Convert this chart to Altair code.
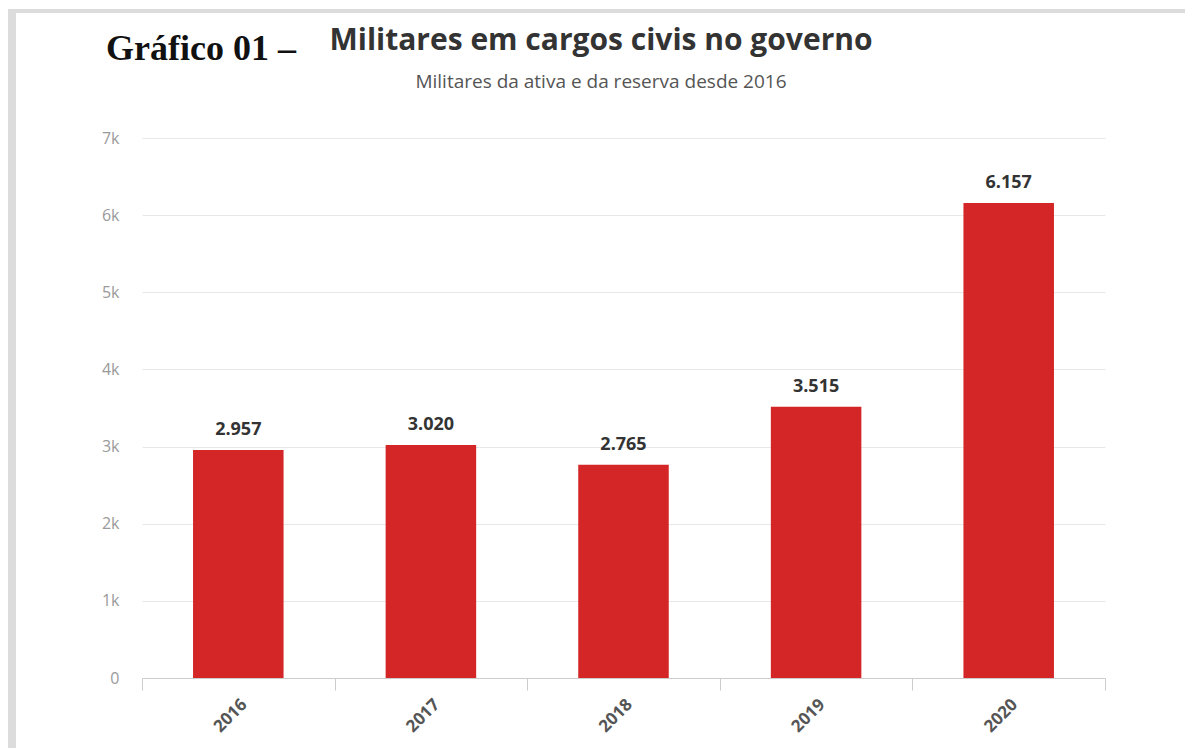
import altair as alt
import pandas as pd

years = ["2016", "2017", "2018", "2019", "2020"]
values = [2957, 3020, 2765, 3515, 6157]
y_ticks = [0, 1000, 2000, 3000, 4000, 5000, 6000, 7000]

title_text = "Militares em cargos civis no governo"
subtitle_text = "Militares da ativa e da reserva desde 2016"
prefix_text = "Gráfico 01 –"

labels = [f"{v:,}".replace(",", ".") for v in values]
df = pd.DataFrame({"ano": years, "militares": values, "rotulo": labels})

RED = "#d42627"

x_enc = alt.X(
    "ano:N",
    sort=years,
    scale=alt.Scale(paddingInner=0, paddingOuter=0),
    axis=alt.Axis(
        title=None,
        labelAngle=-45,
        labelFont="Open Sans",
        labelFontSize=17,
        labelFontWeight="bold",
        labelColor="#555555",
        labelPadding=6,
        domainColor="#cccccc",
        tickColor="#cccccc",
        tickBand="extent",
        tickSize=12,
        grid=False,
    ),
)
y_enc = alt.Y(
    "militares:Q",
    scale=alt.Scale(domain=[0, 7000], nice=False),
    axis=alt.Axis(
        title=None,
        values=y_ticks,
        labelExpr="datum.value == 0 ? '0' : format(datum.value / 1000, 'd') + 'k'",
        labelFont="Open Sans",
        labelFontSize=16,
        labelColor="#9a9a9a",
        labelPadding=23,
        domain=False,
        ticks=False,
        gridColor="#e8e8e8",
    ),
)

base = alt.Chart(df)
bars = base.mark_bar(color=RED, width=alt.RelativeBandSize(0.47)).encode(x=x_enc, y=y_enc)
text = base.mark_text(
    font="Open Sans", fontSize=18, fontWeight="bold", color="#333333",
    baseline="alphabetic", dy=-15,
).encode(x=alt.X("ano:N", sort=years), y="militares:Q", text="rotulo:N")

frame_df = pd.DataFrame({"k": [0]})
frame_top = alt.Chart(frame_df).mark_rule(color="#dcdcdc", strokeWidth=4).encode(
    x=alt.value(-134), x2=alt.value(1080), y=alt.value(-127)
)
frame_left = alt.Chart(frame_df).mark_rule(color="#dcdcdc", strokeWidth=8).encode(
    x=alt.value(-130), y=alt.value(-129), y2=alt.value(620)
)
prefix = alt.Chart(pd.DataFrame({"t": [prefix_text]})).mark_text(
    font="Liberation Serif", fontSize=36, fontWeight="bold", color="#111111",
    align="left", baseline="alphabetic",
).encode(x=alt.value(-36), y=alt.value(-78), text="t:N")
title = alt.Chart(pd.DataFrame({"t": [title_text]})).mark_text(
    font="Open Sans", fontSize=30, fontWeight="bold", color="#333333",
    align="center", baseline="alphabetic",
).encode(x=alt.value(459), y=alt.value(-88), text="t:N")
subtitle = alt.Chart(pd.DataFrame({"t": [subtitle_text]})).mark_text(
    font="Open Sans", fontSize=19, color="#555555",
    align="center", baseline="alphabetic",
).encode(x=alt.value(459), y=alt.value(-50), text="t:N")

chart = alt.layer(frame_top, frame_left, bars, text, prefix, title, subtitle).properties(
    width=963,
    height=540,
    background="white",
    autosize=alt.AutoSizeParams(type="none"),
    padding={"left": 134, "top": 130, "right": 80, "bottom": 70},
).configure_view(strokeWidth=0, stroke="transparent")

chart.save("out.html", embed_options={"renderer": "svg", "actions": False})
